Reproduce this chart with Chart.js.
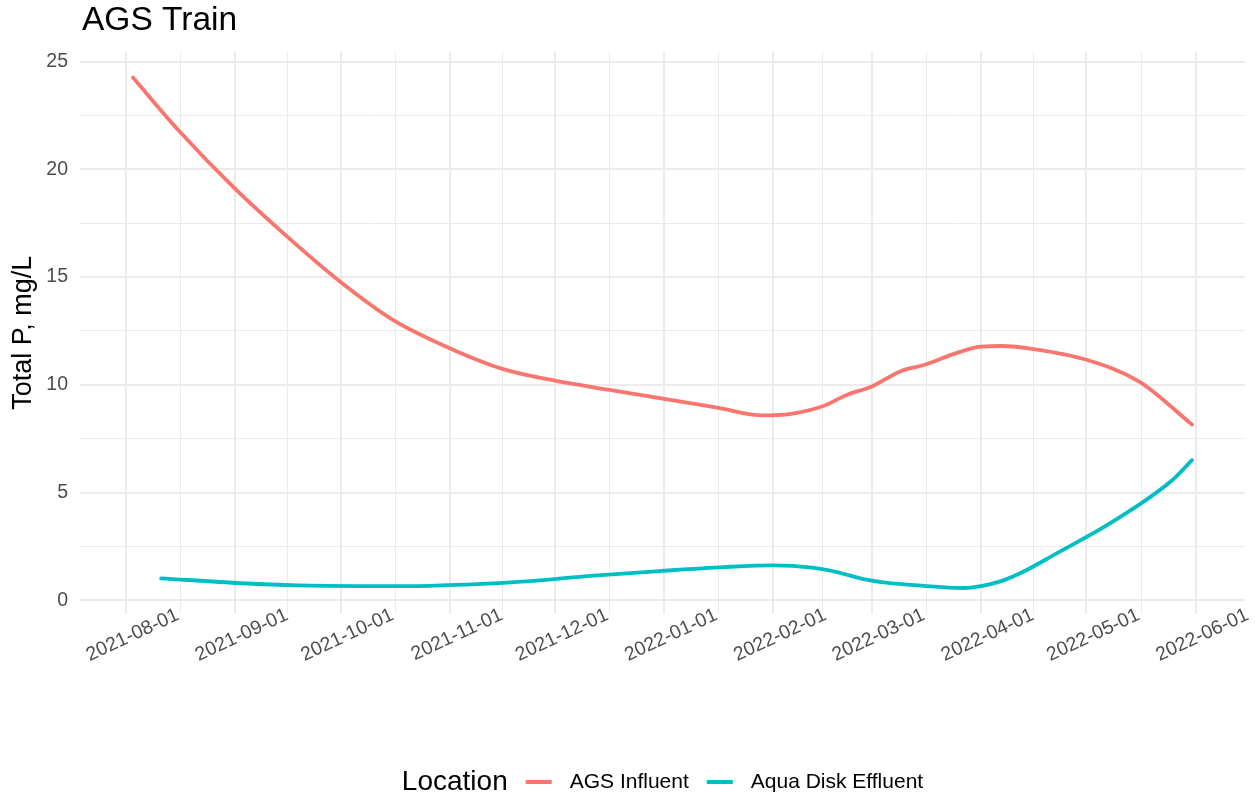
<!DOCTYPE html>
<html>
<head>
<meta charset="utf-8">
<title>AGS Train</title>
<script src="https://cdn.jsdelivr.net/npm/chart.js@4.4.0/dist/chart.umd.min.js"></script>
<style>
    html, body { margin: 0; padding: 0; background: #ffffff; }
    #wrap { width: 1255px; height: 799px; }
</style>
</head>
<body>
<div id="wrap"><canvas id="agsChart" width="1255" height="799"></canvas></div>
<script>
/*
 * Data
 */
const influentDates = ['2021-08-03', '2021-08-16', '2021-09-01', '2021-09-16', '2021-10-01', '2021-10-16',
    '2021-11-01', '2021-11-16', '2021-12-01', '2021-12-16', '2022-01-01', '2022-01-16', '2022-01-29',
    '2022-02-06', '2022-02-15', '2022-02-22', '2022-03-01', '2022-03-09', '2022-03-16', '2022-03-25',
    '2022-04-01', '2022-04-07', '2022-04-16', '2022-05-01', '2022-05-16', '2022-05-31'];
const influentValues = [24.26, 21.8, 19.1, 16.85, 14.77, 13.0, 11.7, 10.74, 10.19, 9.77, 9.35, 8.94, 8.58,
    8.65, 9.0, 9.54, 9.92, 10.62, 10.93, 11.47, 11.77, 11.8, 11.66, 11.16, 10.15, 8.15];

const effluentDates = ['2021-08-11', '2021-09-03', '2021-09-19', '2021-10-06', '2021-10-22', '2021-11-07',
    '2021-11-24', '2021-12-10', '2021-12-31', '2022-01-18', '2022-02-01', '2022-02-12', '2022-02-19',
    '2022-02-27', '2022-03-05', '2022-03-14', '2022-03-27', '2022-04-01', '2022-04-07', '2022-04-13',
    '2022-04-22', '2022-05-08', '2022-05-25', '2022-05-31'];
const effluentValues = [1.02, 0.79, 0.69, 0.66, 0.66, 0.74, 0.89, 1.12, 1.36, 1.54, 1.62, 1.51, 1.31,
    0.97, 0.82, 0.69, 0.57, 0.66, 0.9, 1.32, 2.13, 3.6, 5.52, 6.5];

const seriesNames = ['AGS Influent', 'Aqua Disk Effluent'];
const seriesColors = ['#F8766D', '#00BFC4'];

const xTickDates = ['2021-08-01', '2021-09-01', '2021-10-01', '2021-11-01', '2021-12-01', '2022-01-01',
    '2022-02-01', '2022-03-01', '2022-04-01', '2022-05-01', '2022-06-01'];
const yTickValues = [0, 5, 10, 15, 20, 25];

const chartTitle = 'AGS Train';
const yAxisTitle = 'Total P, mg/L';
const legendTitle = 'Location';

const FONT = "'Liberation Sans', Arial, Helvetica, sans-serif";

/*
 * Helpers
 */
function toTime(str) {
    const p = str.split('-');
    return Date.UTC(Number(p[0]), Number(p[1]) - 1, Number(p[2]));
}

function toLabel(t) {
    return new Date(t).toISOString().slice(0, 10);
}

function makePoints(dates, values) {
    let points = [];
    for (let i = 0; i < dates.length; i++) {
        points.push({ x: toTime(dates[i]), y: values[i] });
    }
    return points;
}

// ggplot style 5% expansion around the data
function expandRange(values) {
    const lo = Math.min(...values);
    const hi = Math.max(...values);
    const pad = (hi - lo) * 0.05;
    return { min: lo - pad, max: hi + pad };
}

// major ticks plus a minor tick halfway between each pair
function withMinor(majors, min, max) {
    let ticks = [];
    for (let i = 0; i < majors.length; i++) {
        ticks.push({ value: majors[i], minor: false });
        if (i < majors.length - 1) {
            ticks.push({ value: (majors[i] + majors[i + 1]) / 2, minor: true });
        }
    }
    if (majors.length > 1) {
        const step = majors[1] - majors[0];
        const before = majors[0] - step / 2;
        const after = majors[majors.length - 1] + step / 2;
        if (before >= min) ticks.unshift({ value: before, minor: true });
        if (after <= max) ticks.push({ value: after, minor: true });
    }
    return ticks.filter(t => t.value >= min && t.value <= max);
}

const xRange = expandRange(influentDates.concat(effluentDates).map(toTime));
const yRange = expandRange(influentValues.concat(effluentValues));
const xMajor = xTickDates.map(toTime);

// Title and legend drawn ggplot style (title over the panel, legend row at the bottom)
const titleLegendPlugin = {
    id: 'titleLegend',
    afterDraw: (chart) => {
        const { ctx, chartArea } = chart;
        ctx.save();

        ctx.fillStyle = '#000000';
        ctx.textBaseline = 'alphabetic';
        ctx.textAlign = 'left';
        ctx.font = '33.5px ' + FONT;
        ctx.fillText(chartTitle, chartArea.left + 2, 30);

        // legend row
        const y = 782;
        const keyW = 26;
        const gap = 18;
        ctx.font = '28px ' + FONT;
        const titleW = ctx.measureText(legendTitle).width;
        ctx.font = '21px ' + FONT;
        const labelW = seriesNames.map(n => ctx.measureText(n).width);
        let total = titleW;
        for (let i = 0; i < seriesNames.length; i++) {
            total += gap + keyW + gap + labelW[i];
        }
        let x = (chartArea.left + chartArea.right) / 2 - total / 2;

        ctx.textBaseline = 'middle';
        ctx.font = '28px ' + FONT;
        ctx.fillText(legendTitle, x, y);
        x += titleW;

        ctx.font = '21px ' + FONT;
        for (let i = 0; i < seriesNames.length; i++) {
            x += gap;
            ctx.strokeStyle = seriesColors[i];
            ctx.lineWidth = 4;
            ctx.beginPath();
            ctx.moveTo(x, y);
            ctx.lineTo(x + keyW, y);
            ctx.stroke();
            x += keyW + gap;
            ctx.fillStyle = '#000000';
            ctx.fillText(seriesNames[i], x, y);
            x += labelW[i];
        }
        ctx.restore();
    }
};

function setupChart() {
    Chart.defaults.font.family = FONT;

    const graphData = {
        datasets: [
            {
                label: seriesNames[0],
                data: makePoints(influentDates, influentValues),
                borderColor: seriesColors[0]
            },
            {
                label: seriesNames[1],
                data: makePoints(effluentDates, effluentValues),
                borderColor: seriesColors[1]
            }
        ]
    };

    const gridWidth = (context) => (context.tick && context.tick.minor ? 1 : 2);

    new Chart(document.getElementById('agsChart'), {
        type: 'line',
        data: graphData,
        options: {
            responsive: false,
            animation: false,
            layout: { padding: { top: 52, right: 10, left: 0, bottom: 0 } },
            elements: {
                line: { borderWidth: 3.8, cubicInterpolationMode: 'monotone', borderCapStyle: 'round', fill: false },
                point: { radius: 0 }
            },
            plugins: {
                legend: { display: false },
                title: { display: false },
                tooltip: { enabled: false }
            },
            scales: {
                x: {
                    type: 'linear',
                    min: xRange.min,
                    max: xRange.max,
                    afterBuildTicks: (scale) => { scale.ticks = withMinor(xMajor, xRange.min, xRange.max); },
                    afterFit: (scale) => {
                        scale.height = 185.5;
                        // let the rotated labels poke slightly above the axis box, like ggplot does
                        scale._computeLabelArea = () => undefined;
                    },
                    border: { display: false },
                    grid: { color: '#EBEBEB', lineWidth: gridWidth, drawTicks: false },
                    ticks: {
                        autoSkip: false,
                        minRotation: 25,
                        maxRotation: 25,
                        labelOffset: 52,
                        padding: -10,
                        color: '#4D4D4D',
                        font: { size: 19.5 },
                        callback: (value, index, ticks) => (ticks[index].minor ? '' : toLabel(value))
                    }
                },
                y: {
                    min: yRange.min,
                    max: yRange.max,
                    afterBuildTicks: (scale) => { scale.ticks = withMinor(yTickValues, yRange.min, yRange.max); },
                    afterFit: (scale) => { scale.width = 80; },
                    border: { display: false },
                    grid: { color: '#EBEBEB', lineWidth: gridWidth, drawTicks: false },
                    ticks: {
                        padding: 12,
                        color: '#4D4D4D',
                        font: { size: 19.5 },
                        callback: (value, index, ticks) => (ticks[index].minor ? '' : String(value))
                    },
                    title: {
                        display: true,
                        text: yAxisTitle,
                        color: '#000000',
                        font: { size: 27 },
                        padding: { top: 7, bottom: 0 }
                    }
                }
            }
        },
        plugins: [titleLegendPlugin]
    });
}

setupChart();
</script>
</body>
</html>
